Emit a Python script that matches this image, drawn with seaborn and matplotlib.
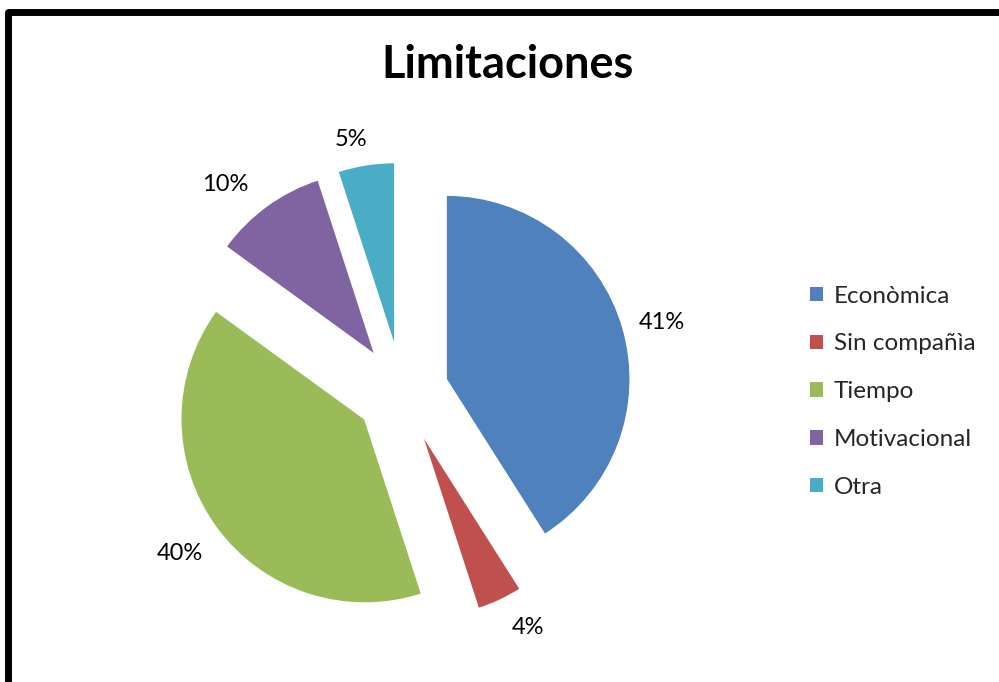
import numpy as np
import seaborn as sns
import matplotlib
matplotlib.use("Agg")
import matplotlib.pyplot as plt
from matplotlib.patches import Rectangle, Patch

# data
categories = ["Econòmica", "Sin compañìa", "Tiempo", "Motivacional", "Otra"]
values = [41, 4, 40, 10, 5]
colors = ["#4F81BD", "#C0504D", "#9BBB59", "#8064A2", "#4BACC6"]

sns.set_theme(style="white")
plt.rcParams['font.family'] = ['Lato', 'DejaVu Sans']

W, H = 999, 682
fig = plt.figure(figsize=(W / 100, H / 100), dpi=100)
fig.patch.set_facecolor("white")

# pie axes: center at pixel (402, 392) from top, radius ~184 px
cx, cy, r_px = 402, 392, 184
S = 290
ax = fig.add_axes([(cx - S) / W, (H - cy - S) / H, 2 * S / W, 2 * S / H])
lim = S / r_px

wedges, texts, autotexts = ax.pie(
    values, colors=colors, startangle=90, counterclock=False,
    explode=[0.25] * len(values), autopct='%1.0f%%', pctdistance=1.21,
    textprops=dict(fontsize=17, color="black"), frame=True)
ax.set_xlim(-lim, lim)
ax.set_ylim(-lim, lim)
ax.set_aspect("equal")
ax.axis("off")

# nudge labels to the "best fit" spots used by the original chart
label_r = [1.46, 1.45, 1.49, 1.48, 1.40]
label_dang = [-1.3, 3.0, 0.0, 4.5, 2.4]
for w, t, rr, da in zip(wedges, autotexts, label_r, label_dang):
    ang = np.deg2rad((w.theta1 + w.theta2) / 2 + da)
    t.set_position((rr * np.cos(ang), rr * np.sin(ang)))

fig.text(508 / W, 1 - 65 / H, "Limitaciones", ha="center", va="center",
         fontsize=32.5, fontweight="bold", color="black")

handles = [Patch(facecolor=c, edgecolor="none") for c in colors]
fig.legend(handles, categories, loc="upper left",
           bbox_to_anchor=(800 / W, 1 - 276 / H), frameon=False,
           fontsize=17.5, handlelength=0.55, handleheight=0.55,
           handletextpad=0.45, labelspacing=1.1, borderaxespad=0)

# outer chart border (only left and top visible in the crop)
frame = Rectangle((7.5 / W, -30 / H), 1.2, (H - 11.5 + 30) / H,
                  transform=fig.transFigure, fill=False, edgecolor="black",
                  linewidth=5, joinstyle="round")
fig.patches.append(frame)

fig.savefig("out.png", dpi=100, facecolor="white")
